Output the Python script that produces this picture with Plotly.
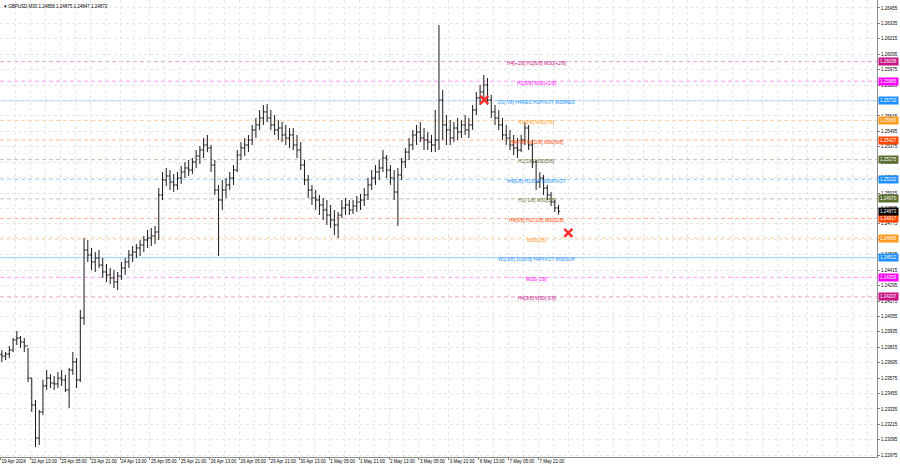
import plotly.graph_objects as go

# ---------------- data ----------------
title_text = "GBPUSD,M30 1.24858 1.24875 1.24847 1.24873"

# 2-hour aggregated candles (4 M30 bars each)
high = [1.23794, 1.23778, 1.23825, 1.23887, 1.23942, 1.23903, 1.23887, 1.23810, 1.23576, 1.23405,
        1.23327, 1.23561, 1.23638, 1.23607, 1.23592, 1.23623, 1.23638, 1.23600, 1.23654, 1.23778,
        1.23732, 1.24105, 1.24665, 1.24650, 1.24588, 1.24556, 1.24572, 1.24510, 1.24463, 1.24432,
        1.24416, 1.24401, 1.24479, 1.24510, 1.24572, 1.24603, 1.24619, 1.24650, 1.24681, 1.24728,
        1.24743, 1.24759, 1.25054, 1.25179, 1.25210, 1.25194, 1.25163, 1.25179, 1.25226, 1.25257,
        1.25272, 1.25288, 1.25350, 1.25381, 1.25443, 1.25467, 1.25389, 1.25272, 1.25078, 1.25117,
        1.25132, 1.25179, 1.25233, 1.25350, 1.25412, 1.25443, 1.25467, 1.25545, 1.25599, 1.25661,
        1.25700, 1.25708, 1.25661, 1.25622, 1.25583, 1.25568, 1.25545, 1.25521, 1.25521, 1.25467,
        1.25412, 1.25272, 1.25156, 1.25078, 1.25039, 1.25000, 1.24977, 1.24961, 1.24922, 1.24883,
        1.24868, 1.24961, 1.24977, 1.24961, 1.24961, 1.24992, 1.25008, 1.25054, 1.25132, 1.25194,
        1.25233, 1.25272, 1.25350, 1.25311, 1.25233, 1.25194, 1.25210, 1.25288, 1.25366, 1.25443,
        1.25506, 1.25545, 1.25568, 1.25521, 1.25490, 1.25467, 1.25661, 1.26323, 1.25817, 1.25622,
        1.25583, 1.25568, 1.25599, 1.25583, 1.25622, 1.25599, 1.25700, 1.25801, 1.25856, 1.25934,
        1.25910, 1.25778, 1.25700, 1.25661, 1.25599, 1.25545, 1.25506, 1.25467, 1.25443, 1.25467,
        1.25568, 1.25545, 1.25428, 1.25272, 1.25179, 1.25156, 1.25078, 1.25023, 1.24961, 1.24922]
low = [1.23701, 1.23716, 1.23732, 1.23778, 1.23833, 1.23810, 1.23778, 1.23545, 1.23312, 1.23039,
       1.23055, 1.23288, 1.23483, 1.23498, 1.23483, 1.23498, 1.23514, 1.23467, 1.23343, 1.23600,
       1.23498, 1.23545, 1.23989, 1.24479, 1.24416, 1.24401, 1.24432, 1.24354, 1.24323, 1.24308,
       1.24276, 1.24261, 1.24339, 1.24378, 1.24432, 1.24479, 1.24510, 1.24525, 1.24556, 1.24588,
       1.24603, 1.24619, 1.24650, 1.24961, 1.25070, 1.25039, 1.25023, 1.25039, 1.25086, 1.25132,
       1.25148, 1.25163, 1.25210, 1.25241, 1.25288, 1.25334, 1.25179, 1.25000, 1.24525, 1.24883,
       1.24977, 1.25039, 1.25078, 1.25179, 1.25272, 1.25303, 1.25334, 1.25389, 1.25443, 1.25506,
       1.25545, 1.25568, 1.25506, 1.25467, 1.25428, 1.25412, 1.25389, 1.25366, 1.25350, 1.25288,
       1.25194, 1.25078, 1.24977, 1.24922, 1.24883, 1.24844, 1.24805, 1.24767, 1.24743, 1.24689,
       1.24665, 1.24821, 1.24844, 1.24844, 1.24852, 1.24868, 1.24883, 1.24914, 1.24961, 1.25039,
       1.25078, 1.25117, 1.25179, 1.25132, 1.25078, 1.24961, 1.24759, 1.25117, 1.25210, 1.25272,
       1.25350, 1.25389, 1.25412, 1.25350, 1.25350, 1.25334, 1.25334, 1.25350, 1.25428, 1.25389,
       1.25389, 1.25412, 1.25428, 1.25443, 1.25467, 1.25443, 1.25506, 1.25622, 1.25700, 1.25739,
       1.25700, 1.25599, 1.25545, 1.25506, 1.25428, 1.25389, 1.25350, 1.25311, 1.25288, 1.25334,
       1.25389, 1.25350, 1.25210, 1.25039, 1.25054, 1.25000, 1.24961, 1.24914, 1.24868, 1.24847]
close = [1.23747, 1.23763, 1.23794, 1.23872, 1.23887, 1.23856, 1.23825, 1.23576, 1.23366, 1.23109,
         1.23312, 1.23514, 1.23576, 1.23537, 1.23530, 1.23576, 1.23561, 1.23483, 1.23638, 1.23701,
         1.23561, 1.24043, 1.24572, 1.24533, 1.24479, 1.24510, 1.24455, 1.24401, 1.24378, 1.24354,
         1.24323, 1.24370, 1.24432, 1.24479, 1.24533, 1.24556, 1.24588, 1.24611, 1.24650, 1.24665,
         1.24681, 1.24712, 1.25000, 1.25117, 1.25148, 1.25101, 1.25078, 1.25132, 1.25179, 1.25210,
         1.25194, 1.25257, 1.25303, 1.25350, 1.25389, 1.25366, 1.25233, 1.25039, 1.24961, 1.25039,
         1.25078, 1.25132, 1.25194, 1.25311, 1.25366, 1.25389, 1.25428, 1.25506, 1.25545, 1.25599,
         1.25646, 1.25599, 1.25545, 1.25506, 1.25521, 1.25467, 1.25443, 1.25467, 1.25389, 1.25350,
         1.25233, 1.25117, 1.25039, 1.24977, 1.24961, 1.24922, 1.24883, 1.24844, 1.24805, 1.24767,
         1.24844, 1.24899, 1.24922, 1.24883, 1.24914, 1.24945, 1.24961, 1.25000, 1.25078, 1.25132,
         1.25179, 1.25210, 1.25288, 1.25194, 1.25132, 1.25023, 1.25156, 1.25257, 1.25334, 1.25389,
         1.25467, 1.25490, 1.25443, 1.25428, 1.25412, 1.25389, 1.25428, 1.25739, 1.25545, 1.25506,
         1.25443, 1.25521, 1.25490, 1.25545, 1.25506, 1.25545, 1.25661, 1.25755, 1.25801, 1.25856,
         1.25739, 1.25646, 1.25599, 1.25545, 1.25467, 1.25443, 1.25389, 1.25366, 1.25350, 1.25428,
         1.25521, 1.25389, 1.25257, 1.25101, 1.25132, 1.25054, 1.25000, 1.24945, 1.24899, 1.24873]
first_open = 1.23760
bars_per_candle = 4  # M30 bars per drawn candle

# time axis labels (every 32 M30 bars)
date_labels = ["19 Apr 2024", "22 Apr 13:00", "23 Apr 05:00", "23 Apr 21:00", "24 Apr 13:00",
               "25 Apr 05:00", "25 Apr 21:00", "26 Apr 13:00", "29 Apr 05:00", "29 Apr 21:00",
               "30 Apr 13:00", "1 May 05:00", "1 May 21:00", "2 May 13:00", "3 May 05:00",
               "3 May 21:00", "6 May 13:00", "7 May 05:00", "7 May 21:00"]
label_step = 32

# price axis ticks
price_ticks = [1.22975, 1.23095, 1.23215, 1.23335, 1.23455, 1.23575, 1.23695, 1.23815, 1.23935,
               1.24055, 1.24175, 1.24295, 1.24415, 1.24535, 1.24655, 1.24775, 1.24895, 1.25015,
               1.25135, 1.25255, 1.25375, 1.25495, 1.25615, 1.25735, 1.25855, 1.25975, 1.26095,
               1.26215, 1.26335, 1.26455]

# Murrey-math levels
level_values = [1.26038, 1.25885, 1.25733, 1.25580, 1.25427, 1.25275, 1.25122,
                1.24970, 1.24817, 1.24665, 1.24512, 1.24359, 1.24207]
level_texts = ["H4[+1/8] H1[6/8] M30[+2/8]", "H1[5/8] M30[+1/8]", "D1[7/8] H4RES H1PIVOT M30RES",
               "H1[3/8] M30[7/8]", "H4[7/8] H1[2/8] M30[6/8]", "H1[1/8] M30[5/8]",
               "H4[6/8] H1SUP M30PIVOT", "H1[-1/8] M30[3/8]", "H4[5/8] H1[-2/8] M30[2/8]",
               "M30[1/8]", "W1[3/8] D1[6/8] H4PIVOT M30SUP", "M30[-1/8]", "H4[3/8] M30[-2/8]"]
current_price = 1.24873

# signal crosses (bar index in M30 units, price)
signal_idx = [518, 608]
signal_price = [1.25740, 1.24705]

# ---------------- styles ----------------
MVR = "#C71585"; MAG = "#FF00FF"; BLU = "#1E90FF"; ORG = "#FF9A1F"; ORD = "#FF4500"; OLV = "#5B7030"
level_colors = [MVR, MAG, BLU, ORG, ORD, OLV, BLU, OLV, ORD, ORG, BLU, MAG, MVR]
line_colors = {MVR: "rgba(199,21,133,0.4)", MAG: "rgba(255,0,255,0.4)", BLU: "rgba(30,144,255,0.45)",
               ORG: "rgba(255,154,31,0.45)", ORD: "rgba(255,69,0,0.4)", OLV: "rgba(91,112,48,0.4)"}
solid_levels = {2, 10}

FONT = "Liberation Sans, Arial, sans-serif"
AX = 4.5
PX_PER_BAR = 0.934
PLOT_W = 877
x_max = PLOT_W / PX_PER_BAR - 0.5

opens = [first_open] + close[:-1]
xs = [bars_per_candle * i + 1.5 for i in range(len(close))]

fig = go.Figure()
fig.add_trace(go.Ohlc(
    x=xs, open=opens, high=high, low=low, close=close, tickwidth=0.45,
    increasing=dict(line=dict(color="#1a1a1a", width=1)),
    decreasing=dict(line=dict(color="#1a1a1a", width=1)),
    showlegend=False, hoverinfo="skip"))

for k, v in enumerate(level_values):
    c = level_colors[k]
    fig.add_shape(type="line", xref="paper", x0=0, x1=1, yref="y", y0=v, y1=v,
                  line=dict(color=line_colors[c], width=1,
                            dash="solid" if k in solid_levels else "4px,3px"),
                  layer="below")
    fig.add_annotation(x=574, y=v, xref="x", yref="y", text=level_texts[k], showarrow=False,
                       xanchor="center", yanchor="middle", yshift=-2,
                       font=dict(family=FONT, size=4.9, color=c))
    fig.add_annotation(x=1, y=v, xref="paper", yref="y", text=f"{v:.5f}", showarrow=False,
                       xanchor="left", yanchor="middle", xshift=1,
                       bgcolor=c, borderpad=1, font=dict(family=FONT, size=AX, color="white"))

fig.add_annotation(x=1, y=current_price, xref="paper", yref="y", text=f"{current_price:.5f}",
                   showarrow=False, xanchor="left", yanchor="middle", xshift=1,
                   bgcolor="#000000", borderpad=1, font=dict(family=FONT, size=AX, color="white"))

fig.add_trace(go.Scatter(x=signal_idx, y=signal_price, mode="markers", showlegend=False,
                         hoverinfo="skip",
                         marker=dict(symbol="x-thin", size=8, color="#FF2A2A",
                                     line=dict(color="#FF2A2A", width=2.5))))

fig.add_annotation(x=0, y=1, xref="paper", yref="paper", xanchor="left", yanchor="top",
                   xshift=2, yshift=-2, showarrow=False,
                   text="▾ " + title_text, font=dict(family=FONT, size=AX, color="#000000"))

grid = "#e6e6e6"
fig.update_layout(
    width=900, height=468,
    margin=dict(l=0, r=23, t=0, b=11, autoexpand=False),
    paper_bgcolor="white", plot_bgcolor="white",
    showlegend=False,
    xaxis=dict(range=[-0.5, x_max], rangeslider=dict(visible=False),
               tickmode="array", tickvals=[label_step * k for k in range(len(date_labels))],
               ticktext=date_labels, ticks="outside", ticklen=2, tickcolor="#808080",
               ticklabelposition="outside right", tickangle=0,
               tickfont=dict(family=FONT, size=AX, color="#000000"),
               showgrid=True, gridcolor=grid, griddash="dot", gridwidth=1,
               minor=dict(tickvals=[16 * k for k in range(60)], showgrid=True,
                          gridcolor=grid, griddash="dot", ticks=""),
               showline=True, linecolor="#8c8c8c", linewidth=1, mirror=True,
               zeroline=False, fixedrange=True),
    yaxis=dict(side="right", range=[1.229615, 1.26517],
               tickmode="array", tickvals=price_ticks, ticktext=[f"{t:.5f}" for t in price_ticks],
               ticks="outside", ticklen=2, tickcolor="#808080",
               tickfont=dict(family=FONT, size=AX, color="#000000"),
               showgrid=True, gridcolor=grid, griddash="dot", gridwidth=1,
               showline=True, linecolor="#8c8c8c", linewidth=1, mirror=True,
               zeroline=False, fixedrange=True),
)

fig.write_html("out.html", config={"displayModeBar": False},
               post_script="document.body.style.margin='0';document.body.style.padding='0';")
